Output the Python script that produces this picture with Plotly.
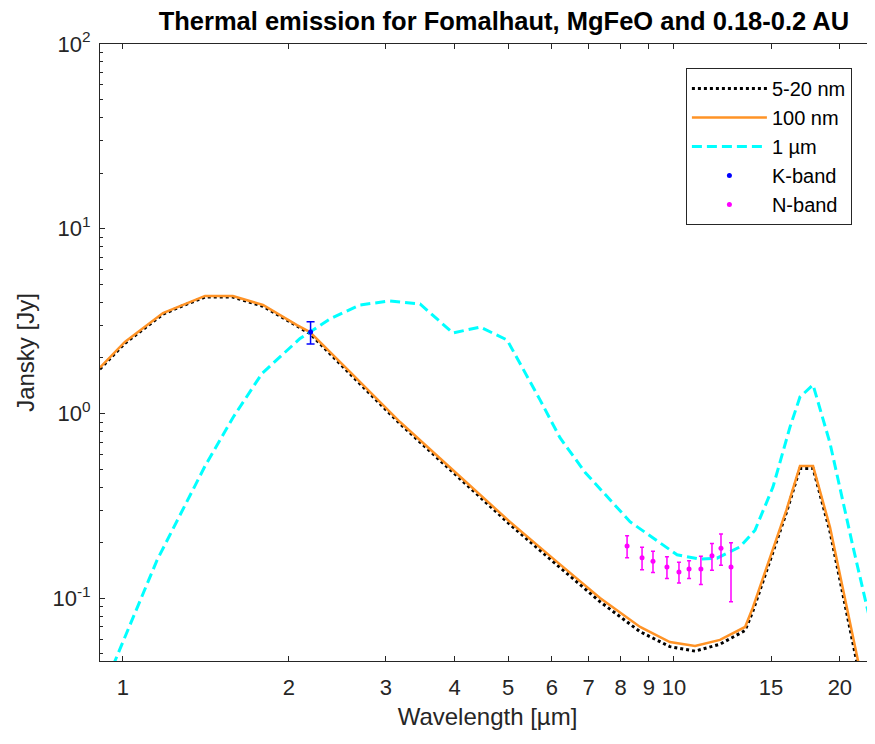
import plotly.graph_objects as go

# ---- data ----
wl_small = [0.908, 1.008, 1.182, 1.280, 1.409, 1.583, 1.795, 2.069, 2.184, 2.582, 3.183, 4.005,
            5.04, 6.08, 7.34, 8.68, 9.83, 10.92, 12.12, 13.46, 13.9, 16.0, 16.93, 17.88, 19.19, 21.58, 22.2]
flux_small = [1.74, 2.40, 3.45, 3.82, 4.27, 4.27, 3.81, 2.96, 2.71, 1.64, 0.88, 0.470,
              0.251, 0.155, 0.096, 0.066, 0.0548, 0.0518, 0.0565, 0.067, 0.085, 0.292, 0.505, 0.505, 0.23, 0.042, 0.032]

wl_100 = [0.908, 1.008, 1.182, 1.280, 1.409, 1.583, 1.795, 2.069, 2.184, 2.582, 3.183, 4.005,
          5.04, 6.08, 7.34, 8.68, 9.83, 10.92, 12.12, 13.46, 13.9, 16.0, 16.93, 17.88, 19.19, 21.58, 22.2]
flux_100 = [1.77, 2.44, 3.50, 3.87, 4.33, 4.33, 3.87, 3.01, 2.76, 1.68, 0.90, 0.483,
            0.259, 0.161, 0.1005, 0.070, 0.058, 0.0552, 0.0596, 0.070, 0.089, 0.301, 0.52, 0.52, 0.243, 0.0458, 0.036]

wl_1um = [0.939, 0.967, 1.153, 1.409, 1.583, 1.788, 2.096, 2.375, 2.69, 3.05, 3.46, 3.97, 4.45,
          4.98, 5.71, 6.21, 6.90, 8.32, 10.13, 11.15, 11.97, 13.18, 14.03, 15.12, 16.24, 16.93,
          17.88, 19.19, 21.13, 22.97]
flux_1um = [0.0361, 0.0458, 0.161, 0.52, 0.95, 1.65, 2.55, 3.25, 3.87, 4.07, 3.92, 2.73, 2.94,
            2.50, 1.19, 0.74, 0.48, 0.26, 0.172, 0.163, 0.165, 0.190, 0.234, 0.40, 0.847, 1.23,
            1.43, 0.693, 0.190, 0.065]

k_wl = [2.19]
k_flux = [2.76]
k_err = [0.38]

n_wl = [8.22, 8.75, 9.16, 9.71, 10.21, 10.65, 11.19, 11.72, 12.17, 12.69]
n_flux = [0.192, 0.166, 0.159, 0.148, 0.139, 0.144, 0.144, 0.170, 0.187, 0.148]
n_err = [0.026, 0.023, 0.021, 0.020, 0.018, 0.016, 0.025, 0.028, 0.036, 0.052]

x_ticks = [1, 2, 3, 4, 5, 6, 7, 8, 9, 10, 15, 20]
y_ticks = [0.1, 1, 10, 100]
y_ticktext = ["10<sup>-1</sup>", "10<sup>0</sup>", "10<sup>1</sup>", "10<sup>2</sup>"]
y_minor = [m * 10 ** e for e in (-2, -1, 0, 1) for m in range(2, 10)]

AX = "#262626"
FONT = "Liberation Sans, Arial, sans-serif"

fig = go.Figure()
fig.add_trace(go.Scatter(x=wl_small, y=flux_small, mode="lines", name="5-20 nm",
                         line=dict(color="black", width=3, dash="3px,3px")))
fig.add_trace(go.Scatter(x=wl_100, y=flux_100, mode="lines", name="100 nm",
                         line=dict(color="#FF9326", width=2.5)))
fig.add_trace(go.Scatter(x=wl_1um, y=flux_1um, mode="lines", name="1 µm",
                         line=dict(color="#00FFFF", width=3, dash="10px,5px")))
fig.add_trace(go.Scatter(x=k_wl, y=k_flux, mode="markers", name="K-band",
                         marker=dict(color="#0000FF", size=5),
                         error_y=dict(type="data", array=k_err, color="#0000FF", thickness=1.5, width=4)))
fig.add_trace(go.Scatter(x=n_wl, y=n_flux, mode="markers", name="N-band",
                         marker=dict(color="#FF00FF", size=5),
                         error_y=dict(type="data", array=n_err, color="#FF00FF", thickness=1.5, width=2)))

fig.update_layout(
    width=867, height=736,
    margin=dict(l=92, r=0, t=36, b=83),
    paper_bgcolor="white", plot_bgcolor="white",
    font=dict(family=FONT, color=AX, size=22),
    title=dict(text="<b>Thermal emission for Fomalhaut, MgFeO and 0.18-0.2 AU</b>",
               x=0.572, xanchor="center", y=1.0, yanchor="top", pad=dict(t=4),
               font=dict(family=FONT, size=25.5, color="black")),
    showlegend=True,
    legend=dict(x=0.756, y=0.961, xanchor="left", yanchor="top",
                bgcolor="white", bordercolor=AX, borderwidth=1,
                font=dict(family=FONT, size=20, color="black"),
                itemwidth=75),
    xaxis=dict(type="log", range=[-0.0417, 1.3648],
               tickvals=x_ticks, ticktext=[str(v) for v in x_ticks],
               ticks="inside", ticklen=5, tickcolor=AX, ticklabelstandoff=7,
               showline=True, linecolor=AX, linewidth=1, mirror="ticks",
               showgrid=False, zeroline=False,
               title=dict(text="Wavelength [µm]", standoff=8, font=dict(size=24, color=AX))),
    yaxis=dict(type="log", range=[-1.339, 2.0],
               tickvals=y_ticks, ticktext=y_ticktext,
               ticks="inside", ticklen=5, tickcolor=AX, ticklabelstandoff=4,
               minor=dict(tickvals=y_minor, ticks="inside", ticklen=3, tickcolor=AX),
               showline=True, linecolor=AX, linewidth=1, mirror=False,
               showgrid=False, zeroline=False,
               title=dict(text="Jansky [Jy]", standoff=11, font=dict(size=24, color=AX))),
)

fig.write_html("out.html")
